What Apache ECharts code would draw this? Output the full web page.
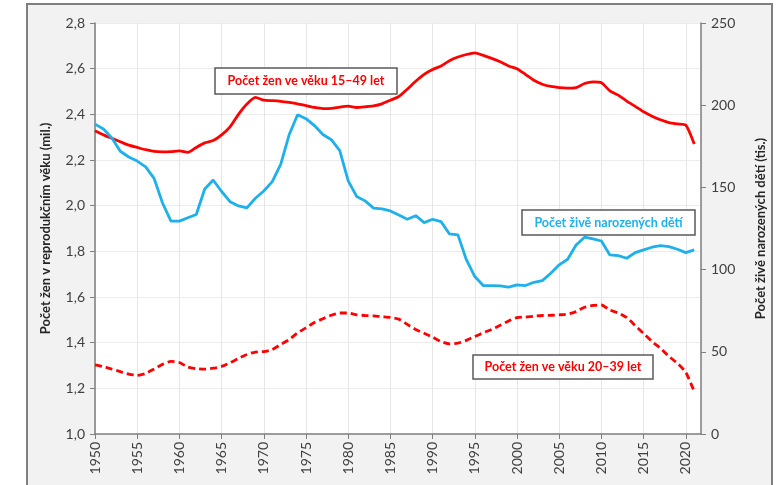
<!DOCTYPE html>
<html>
<head>
<meta charset="utf-8">
<script src="https://cdn.jsdelivr.net/npm/echarts@6/dist/echarts.min.js"></script>
<style>
  html, body { margin: 0; padding: 0; background: #fff; }
  .frame {
    position: absolute; left: 26px; top: 3px; width: 743px; height: 500px;
    background: #f2f2f2; border: 2px solid #7f7f7f;
  }
  #chart { position: absolute; left: 0; top: 0; width: 782px; height: 485px; }
</style>
</head>
<body>
<div class="frame"></div>
<div id="chart"></div>
<script>
const years = [1950, 1951, 1952, 1953, 1954, 1955, 1956, 1957, 1958, 1959,
  1960, 1961, 1962, 1963, 1964, 1965, 1966, 1967, 1968, 1969,
  1970, 1971, 1972, 1973, 1974, 1975, 1976, 1977, 1978, 1979,
  1980, 1981, 1982, 1983, 1984, 1985, 1986, 1987, 1988, 1989,
  1990, 1991, 1992, 1993, 1994, 1995, 1996, 1997, 1998, 1999,
  2000, 2001, 2002, 2003, 2004, 2005, 2006, 2007, 2008, 2009,
  2010, 2011, 2012, 2013, 2014, 2015, 2016, 2017, 2018, 2019,
  2020, 2021]

// ženy 15–49 let (mil.)
const women1549 = [2.328, 2.310, 2.295, 2.280, 2.265, 2.255, 2.245, 2.238, 2.236, 2.237,
  2.240, 2.233, 2.255, 2.275, 2.285, 2.310, 2.345, 2.400, 2.445, 2.474,
  2.462, 2.460, 2.457, 2.452, 2.446, 2.438, 2.430, 2.425, 2.426, 2.432,
  2.436, 2.430, 2.433, 2.437, 2.446, 2.462, 2.478, 2.510, 2.545, 2.575,
  2.596, 2.612, 2.635, 2.651, 2.662, 2.669, 2.658, 2.645, 2.630, 2.612,
  2.600, 2.575, 2.549, 2.532, 2.522, 2.517, 2.515, 2.517, 2.535, 2.542,
  2.538, 2.503, 2.484, 2.458, 2.435, 2.411, 2.392, 2.376, 2.364, 2.358,
  2.353, 2.270]

// ženy 20–39 let (mil.)
const women2039 = [1.303, 1.295, 1.284, 1.273, 1.262, 1.257, 1.265, 1.285, 1.305, 1.318,
  1.313, 1.293, 1.286, 1.284, 1.288, 1.296, 1.312, 1.331, 1.348, 1.359,
  1.361, 1.370, 1.392, 1.413, 1.443, 1.465, 1.488, 1.505, 1.520, 1.530,
  1.530, 1.522, 1.519, 1.517, 1.514, 1.511, 1.503, 1.480, 1.458, 1.441,
  1.424, 1.405, 1.395, 1.398, 1.410, 1.427, 1.443, 1.458, 1.476, 1.495,
  1.510, 1.512, 1.516, 1.519, 1.520, 1.522, 1.525, 1.536, 1.555, 1.563,
  1.565, 1.543, 1.530, 1.510, 1.475, 1.440, 1.405, 1.375, 1.340, 1.310,
  1.270, 1.186]

// živě narození (tis.)
const births = [188.5, 185.5, 180.0, 172.0, 168.5, 166.0, 162.5, 155.5, 140.5, 129.5,
  129.5, 131.5, 133.5, 149.0, 154.5, 147.5, 141.3, 138.7, 137.5, 143.4,
  147.8, 153.5, 164.0, 182.0, 194.2, 191.8, 187.6, 182.2, 179.0, 172.4,
  154.0, 144.5, 141.8, 137.4, 137.0, 135.7, 133.2, 130.6, 132.8, 128.6,
  130.6, 129.2, 121.7, 121.1, 106.0, 95.8, 90.3, 90.3, 90.1, 89.3,
  90.7, 90.3, 92.3, 93.3, 97.8, 102.9, 106.3, 115.0, 119.7, 118.7,
  117.4, 108.9, 108.5, 106.9, 110.3, 112.0, 113.6, 114.6, 114.0, 112.4,
  110.3, 112.0]

const RED = '#ff0000'
const BLUE = '#1eb0ea'
const FONT = 'Lato, "Open Sans", sans-serif'

const pairs = arr => years.map((y, i) => [y, arr[i]])

const chart = echarts.init(document.getElementById('chart'))

// rámečky s popisky
function label(x, y, w, h, text, color) {
  return [
    {
      type: 'rect', z: 50,
      shape: { x: x, y: y, width: w, height: h },
      style: { fill: '#fff', stroke: '#595959', lineWidth: 1.5 }
    },
    {
      type: 'text', z: 51,
      x: x + w / 2, y: y + h / 2,
      style: {
        text: text, fill: color, font: 'bold 12.5px ' + FONT,
        textAlign: 'center', textVerticalAlign: 'middle'
      }
    }
  ]
}

const option = {
  animation: false,
  textStyle: { fontFamily: FONT },
  grid: {
    left: 95, top: 23, right: 81, bottom: 51,
    show: true, backgroundColor: '#fff', borderWidth: 0
  },
  xAxis: {
    type: 'value',
    min: 1950,
    max: 2021.8,
    interval: 5,
    axisLine: { lineStyle: { color: '#7f7f7f', width: 1.5 } },
    axisTick: { show: true, length: 5, lineStyle: { color: '#7f7f7f' } },
    splitLine: { show: true, lineStyle: { color: '#e6e6e6', width: 1 } },
    axisLabel: {
      rotate: 90, margin: 8, color: '#404040', fontSize: 14, showMaxLabel: false,
      formatter: v => (v % 5 === 0 ? String(v) : '')
    }
  },
  yAxis: [
    {
      type: 'value',
      min: 1, max: 2.8, interval: 0.2,
      name: 'Počet žen v reprodukčním věku (mil.)',
      nameLocation: 'middle', nameGap: 43,
      nameTextStyle: { fontWeight: 'bold', fontSize: 13, color: '#262626' },
      axisLine: { show: true, lineStyle: { color: '#7f7f7f', width: 1.5 } },
      axisTick: { show: true, length: 5, lineStyle: { color: '#7f7f7f' } },
      splitLine: { show: true, lineStyle: { color: '#ececec', width: 1 } },
      axisLabel: {
        color: '#404040', fontSize: 14, margin: 10,
        formatter: v => v.toFixed(1).replace('.', ',')
      }
    },
    {
      type: 'value',
      min: 0, max: 250, interval: 50,
      name: 'Počet živě narozených dětí (tis.)',
      nameLocation: 'middle', nameGap: 53, nameRotate: 90,
      nameTextStyle: { fontWeight: 'bold', fontSize: 13, color: '#262626' },
      axisLine: { show: true, lineStyle: { color: '#7f7f7f', width: 1.5 } },
      axisTick: { show: true, length: 5, lineStyle: { color: '#7f7f7f' } },
      splitLine: { show: false },
      axisLabel: { color: '#404040', fontSize: 14, margin: 10 }
    }
  ],
  series: [
    {
      name: 'Počet žen ve věku 15–49 let',
      type: 'line', yAxisIndex: 0, showSymbol: false, smooth: 0.2,
      lineStyle: { color: RED, width: 2.8 },
      data: pairs(women1549)
    },
    {
      name: 'Počet žen ve věku 20–39 let',
      type: 'line', yAxisIndex: 0, showSymbol: false, smooth: 0.2,
      lineStyle: { color: RED, width: 2.8, type: [7, 4] },
      data: pairs(women2039)
    },
    {
      name: 'Počet živě narozených dětí',
      type: 'line', yAxisIndex: 1, showSymbol: false,
      lineStyle: { color: BLUE, width: 2.8 },
      data: pairs(births)
    }
  ],
  graphic: [].concat(
    label(215, 68, 182, 26, 'Počet žen ve věku 15–49 let', RED),
    label(522, 210, 173, 25, 'Počet živě narozených dětí', BLUE),
    label(473, 355, 180, 24, 'Počet žen ve věku 20–39 let', RED)
  )
}

option && chart.setOption(option)
</script>
</body>
</html>
